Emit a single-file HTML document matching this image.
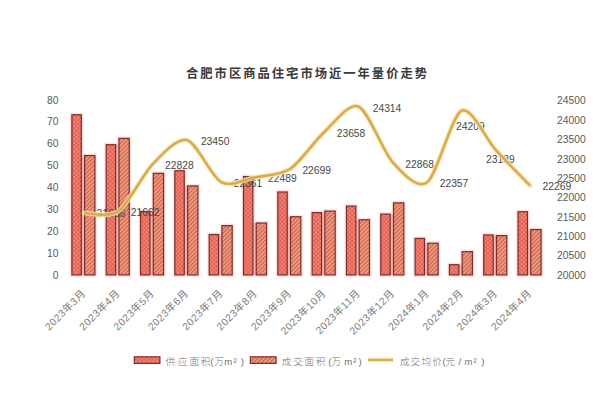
<!DOCTYPE html>
<html><head><meta charset="utf-8"><style>
html,body{margin:0;padding:0;background:#fff;}
svg{display:block;}
.dl{font-family:"Liberation Sans",Arial,sans-serif;font-size:10.3px;fill:#474747;}
.ax{font-family:"Liberation Sans",Arial,sans-serif;font-size:10.3px;fill:#595959;}
.cat{font-family:"Liberation Sans","Noto Sans CJK SC",sans-serif;font-size:10.3px;letter-spacing:0.45px;fill:#7c7c7c;}
.ttl{font-family:"Liberation Sans","Noto Sans CJK SC",sans-serif;font-weight:700;font-size:12.3px;fill:#3a3a3a;letter-spacing:2.0px;}
.lg{font-family:"Liberation Sans","Noto Sans CJK SC",sans-serif;font-weight:300;font-size:9.6px;fill:#707070;}
</style></head><body>
<svg width="600" height="402" viewBox="0 0 600 402">
<defs>
<pattern id="ps" width="3" height="3" patternUnits="userSpaceOnUse" patternTransform="rotate(45)">
<rect width="3" height="3" fill="#ea6e60"/>
<rect width="1.5" height="1.5" fill="#f59582"/>
<rect x="1.5" y="1.5" width="1.5" height="1.5" fill="#da564c"/>
</pattern>
<pattern id="pd" width="2.9" height="2.9" patternUnits="userSpaceOnUse" patternTransform="rotate(45)">
<rect width="2.9" height="2.9" fill="#efaa8e"/>
<rect width="1.5" height="2.9" fill="#d4644c"/>
</pattern>
</defs>
<rect width="600" height="402" fill="#fff"/>
<text x="186" y="78" class="ttl">合肥市区商品住宅市场近一年量价走势</text>
<rect x="71.90" y="114.75" width="9.40" height="160.15" fill="none" stroke="#fbe2e0" stroke-width="4"/>
<rect x="84.64" y="155.55" width="10.30" height="119.35" fill="none" stroke="#fbe2e0" stroke-width="4"/>
<rect x="106.22" y="144.70" width="9.40" height="130.20" fill="none" stroke="#fbe2e0" stroke-width="4"/>
<rect x="118.96" y="138.41" width="10.30" height="136.49" fill="none" stroke="#fbe2e0" stroke-width="4"/>
<rect x="140.54" y="211.54" width="9.40" height="63.36" fill="none" stroke="#fbe2e0" stroke-width="4"/>
<rect x="153.28" y="173.34" width="10.30" height="101.56" fill="none" stroke="#fbe2e0" stroke-width="4"/>
<rect x="174.86" y="170.74" width="9.40" height="104.16" fill="none" stroke="#fbe2e0" stroke-width="4"/>
<rect x="187.60" y="185.93" width="10.30" height="88.97" fill="none" stroke="#fbe2e0" stroke-width="4"/>
<rect x="209.18" y="234.54" width="9.40" height="40.36" fill="none" stroke="#fbe2e0" stroke-width="4"/>
<rect x="221.92" y="225.64" width="10.30" height="49.26" fill="none" stroke="#fbe2e0" stroke-width="4"/>
<rect x="243.50" y="176.60" width="9.40" height="98.30" fill="none" stroke="#fbe2e0" stroke-width="4"/>
<rect x="256.24" y="223.04" width="10.30" height="51.86" fill="none" stroke="#fbe2e0" stroke-width="4"/>
<rect x="277.82" y="192.01" width="9.40" height="82.89" fill="none" stroke="#fbe2e0" stroke-width="4"/>
<rect x="290.56" y="216.74" width="10.30" height="58.16" fill="none" stroke="#fbe2e0" stroke-width="4"/>
<rect x="312.14" y="212.62" width="9.40" height="62.28" fill="none" stroke="#fbe2e0" stroke-width="4"/>
<rect x="324.88" y="211.10" width="10.30" height="63.80" fill="none" stroke="#fbe2e0" stroke-width="4"/>
<rect x="346.46" y="206.11" width="9.40" height="68.79" fill="none" stroke="#fbe2e0" stroke-width="4"/>
<rect x="359.20" y="219.78" width="10.30" height="55.12" fill="none" stroke="#fbe2e0" stroke-width="4"/>
<rect x="380.78" y="214.14" width="9.40" height="60.76" fill="none" stroke="#fbe2e0" stroke-width="4"/>
<rect x="393.52" y="202.86" width="10.30" height="72.04" fill="none" stroke="#fbe2e0" stroke-width="4"/>
<rect x="415.10" y="238.44" width="9.40" height="36.46" fill="none" stroke="#fbe2e0" stroke-width="4"/>
<rect x="427.84" y="243.22" width="10.30" height="31.68" fill="none" stroke="#fbe2e0" stroke-width="4"/>
<rect x="449.42" y="264.70" width="9.40" height="10.20" fill="none" stroke="#fbe2e0" stroke-width="4"/>
<rect x="462.16" y="251.68" width="10.30" height="23.22" fill="none" stroke="#fbe2e0" stroke-width="4"/>
<rect x="483.74" y="234.97" width="9.40" height="39.93" fill="none" stroke="#fbe2e0" stroke-width="4"/>
<rect x="496.48" y="235.62" width="10.30" height="39.28" fill="none" stroke="#fbe2e0" stroke-width="4"/>
<rect x="518.06" y="211.75" width="9.40" height="63.15" fill="none" stroke="#fbe2e0" stroke-width="4"/>
<rect x="530.80" y="229.55" width="10.30" height="45.35" fill="none" stroke="#fbe2e0" stroke-width="4"/>
<rect x="81.30" y="155.55" width="3.34" height="119.35" fill="#f2b4ac"/>
<rect x="115.62" y="144.70" width="3.34" height="130.20" fill="#f2b4ac"/>
<rect x="149.94" y="211.54" width="3.34" height="63.36" fill="#f2b4ac"/>
<rect x="184.26" y="185.93" width="3.34" height="88.97" fill="#f2b4ac"/>
<rect x="218.58" y="234.54" width="3.34" height="40.36" fill="#f2b4ac"/>
<rect x="252.90" y="223.04" width="3.34" height="51.86" fill="#f2b4ac"/>
<rect x="287.22" y="216.74" width="3.34" height="58.16" fill="#f2b4ac"/>
<rect x="321.54" y="212.62" width="3.34" height="62.28" fill="#f2b4ac"/>
<rect x="355.86" y="219.78" width="3.34" height="55.12" fill="#f2b4ac"/>
<rect x="390.18" y="214.14" width="3.34" height="60.76" fill="#f2b4ac"/>
<rect x="424.50" y="243.22" width="3.34" height="31.68" fill="#f2b4ac"/>
<rect x="458.82" y="264.70" width="3.34" height="10.20" fill="#f2b4ac"/>
<rect x="493.14" y="235.62" width="3.34" height="39.28" fill="#f2b4ac"/>
<rect x="527.46" y="229.55" width="3.34" height="45.35" fill="#f2b4ac"/>
<rect x="71.90" y="114.75" width="9.40" height="160.15" fill="url(#ps)" stroke="#7f2b2d" stroke-width="1.2"/>
<rect x="84.64" y="155.55" width="10.30" height="119.35" fill="url(#pd)" stroke="#7f2b2d" stroke-width="1.2"/>
<rect x="106.22" y="144.70" width="9.40" height="130.20" fill="url(#ps)" stroke="#7f2b2d" stroke-width="1.2"/>
<rect x="118.96" y="138.41" width="10.30" height="136.49" fill="url(#pd)" stroke="#7f2b2d" stroke-width="1.2"/>
<rect x="140.54" y="211.54" width="9.40" height="63.36" fill="url(#ps)" stroke="#7f2b2d" stroke-width="1.2"/>
<rect x="153.28" y="173.34" width="10.30" height="101.56" fill="url(#pd)" stroke="#7f2b2d" stroke-width="1.2"/>
<rect x="174.86" y="170.74" width="9.40" height="104.16" fill="url(#ps)" stroke="#7f2b2d" stroke-width="1.2"/>
<rect x="187.60" y="185.93" width="10.30" height="88.97" fill="url(#pd)" stroke="#7f2b2d" stroke-width="1.2"/>
<rect x="209.18" y="234.54" width="9.40" height="40.36" fill="url(#ps)" stroke="#7f2b2d" stroke-width="1.2"/>
<rect x="221.92" y="225.64" width="10.30" height="49.26" fill="url(#pd)" stroke="#7f2b2d" stroke-width="1.2"/>
<rect x="243.50" y="176.60" width="9.40" height="98.30" fill="url(#ps)" stroke="#7f2b2d" stroke-width="1.2"/>
<rect x="256.24" y="223.04" width="10.30" height="51.86" fill="url(#pd)" stroke="#7f2b2d" stroke-width="1.2"/>
<rect x="277.82" y="192.01" width="9.40" height="82.89" fill="url(#ps)" stroke="#7f2b2d" stroke-width="1.2"/>
<rect x="290.56" y="216.74" width="10.30" height="58.16" fill="url(#pd)" stroke="#7f2b2d" stroke-width="1.2"/>
<rect x="312.14" y="212.62" width="9.40" height="62.28" fill="url(#ps)" stroke="#7f2b2d" stroke-width="1.2"/>
<rect x="324.88" y="211.10" width="10.30" height="63.80" fill="url(#pd)" stroke="#7f2b2d" stroke-width="1.2"/>
<rect x="346.46" y="206.11" width="9.40" height="68.79" fill="url(#ps)" stroke="#7f2b2d" stroke-width="1.2"/>
<rect x="359.20" y="219.78" width="10.30" height="55.12" fill="url(#pd)" stroke="#7f2b2d" stroke-width="1.2"/>
<rect x="380.78" y="214.14" width="9.40" height="60.76" fill="url(#ps)" stroke="#7f2b2d" stroke-width="1.2"/>
<rect x="393.52" y="202.86" width="10.30" height="72.04" fill="url(#pd)" stroke="#7f2b2d" stroke-width="1.2"/>
<rect x="415.10" y="238.44" width="9.40" height="36.46" fill="url(#ps)" stroke="#7f2b2d" stroke-width="1.2"/>
<rect x="427.84" y="243.22" width="10.30" height="31.68" fill="url(#pd)" stroke="#7f2b2d" stroke-width="1.2"/>
<rect x="449.42" y="264.70" width="9.40" height="10.20" fill="url(#ps)" stroke="#7f2b2d" stroke-width="1.2"/>
<rect x="462.16" y="251.68" width="10.30" height="23.22" fill="url(#pd)" stroke="#7f2b2d" stroke-width="1.2"/>
<rect x="483.74" y="234.97" width="9.40" height="39.93" fill="url(#ps)" stroke="#7f2b2d" stroke-width="1.2"/>
<rect x="496.48" y="235.62" width="10.30" height="39.28" fill="url(#pd)" stroke="#7f2b2d" stroke-width="1.2"/>
<rect x="518.06" y="211.75" width="9.40" height="63.15" fill="url(#ps)" stroke="#7f2b2d" stroke-width="1.2"/>
<rect x="530.80" y="229.55" width="10.30" height="45.35" fill="url(#pd)" stroke="#7f2b2d" stroke-width="1.2"/>
<text x="96.5" y="216.6" class="dl">21656</text>
<text x="130.8" y="216.4" class="dl">21662</text>
<text x="165.1" y="169.1" class="dl">22828</text>
<text x="200.9" y="145.1" class="dl">23450</text>
<text x="233.7" y="187.2" class="dl">22361</text>
<text x="268.1" y="182.2" class="dl">22489</text>
<text x="302.4" y="174.1" class="dl">22699</text>
<text x="336.7" y="137.0" class="dl">23658</text>
<text x="372.7" y="111.6" class="dl">24314</text>
<text x="405.3" y="167.6" class="dl">22868</text>
<text x="439.7" y="187.3" class="dl">22357</text>
<text x="456.0" y="129.6" class="dl">24209</text>
<text x="486.0" y="162.6" class="dl">23189</text>
<text x="542.6" y="189.7" class="dl">22269</text>
<path d="M84.06,212.97 C88.96,212.72 108.57,218.20 118.38,211.23 C128.19,204.25 142.89,174.28 152.70,164.11 C162.51,153.95 177.21,137.47 187.02,140.05 C196.83,142.63 211.53,176.87 221.34,182.18 C231.15,187.49 245.85,179.09 255.66,177.23 C265.47,175.36 280.17,175.56 289.98,169.10 C299.79,162.64 314.49,140.93 324.30,132.01 C334.11,123.08 348.81,102.27 358.62,106.63 C368.43,111.00 383.13,151.75 392.94,162.57 C402.75,173.38 417.45,189.74 427.26,182.33 C437.07,174.92 451.77,115.29 461.58,110.70 C471.39,106.10 486.09,139.43 495.90,150.15 C505.71,160.87 525.32,180.65 530.22,185.74" fill="none" stroke="#f7e3a8" stroke-width="4.8" stroke-linejoin="round" stroke-linecap="round" opacity="0.85"/>
<path d="M84.06,212.97 C88.96,212.72 108.57,218.20 118.38,211.23 C128.19,204.25 142.89,174.28 152.70,164.11 C162.51,153.95 177.21,137.47 187.02,140.05 C196.83,142.63 211.53,176.87 221.34,182.18 C231.15,187.49 245.85,179.09 255.66,177.23 C265.47,175.36 280.17,175.56 289.98,169.10 C299.79,162.64 314.49,140.93 324.30,132.01 C334.11,123.08 348.81,102.27 358.62,106.63 C368.43,111.00 383.13,151.75 392.94,162.57 C402.75,173.38 417.45,189.74 427.26,182.33 C437.07,174.92 451.77,115.29 461.58,110.70 C471.39,106.10 486.09,139.43 495.90,150.15 C505.71,160.87 525.32,180.65 530.22,185.74" fill="none" stroke="#d8a94e" stroke-width="2.4" stroke-linejoin="round" stroke-linecap="butt"/>
<text x="58.5" y="278.5" class="ax" text-anchor="end">0</text>
<text x="58.5" y="256.6" class="ax" text-anchor="end">10</text>
<text x="58.5" y="234.8" class="ax" text-anchor="end">20</text>
<text x="58.5" y="212.9" class="ax" text-anchor="end">30</text>
<text x="58.5" y="191.0" class="ax" text-anchor="end">40</text>
<text x="58.5" y="169.1" class="ax" text-anchor="end">50</text>
<text x="58.5" y="147.3" class="ax" text-anchor="end">60</text>
<text x="58.5" y="125.4" class="ax" text-anchor="end">70</text>
<text x="58.5" y="103.5" class="ax" text-anchor="end">80</text>
<text x="557" y="278.5" class="ax">20000</text>
<text x="557" y="259.2" class="ax">20500</text>
<text x="557" y="239.8" class="ax">21000</text>
<text x="557" y="220.5" class="ax">21500</text>
<text x="557" y="201.1" class="ax">22000</text>
<text x="557" y="181.8" class="ax">22500</text>
<text x="557" y="162.5" class="ax">23000</text>
<text x="557" y="143.1" class="ax">23500</text>
<text x="557" y="123.8" class="ax">24000</text>
<text x="557" y="104.4" class="ax">24500</text>
<text x="0" y="0" class="cat" text-anchor="end" transform="translate(86.3,293.9) rotate(-45)">2023年3月</text>
<text x="0" y="0" class="cat" text-anchor="end" transform="translate(120.6,293.9) rotate(-45)">2023年4月</text>
<text x="0" y="0" class="cat" text-anchor="end" transform="translate(154.9,293.9) rotate(-45)">2023年5月</text>
<text x="0" y="0" class="cat" text-anchor="end" transform="translate(189.2,293.9) rotate(-45)">2023年6月</text>
<text x="0" y="0" class="cat" text-anchor="end" transform="translate(223.5,293.9) rotate(-45)">2023年7月</text>
<text x="0" y="0" class="cat" text-anchor="end" transform="translate(257.9,293.9) rotate(-45)">2023年8月</text>
<text x="0" y="0" class="cat" text-anchor="end" transform="translate(292.2,293.9) rotate(-45)">2023年9月</text>
<text x="0" y="0" class="cat" text-anchor="end" transform="translate(326.5,293.9) rotate(-45)">2023年10月</text>
<text x="0" y="0" class="cat" text-anchor="end" transform="translate(360.8,293.9) rotate(-45)">2023年11月</text>
<text x="0" y="0" class="cat" text-anchor="end" transform="translate(395.1,293.9) rotate(-45)">2023年12月</text>
<text x="0" y="0" class="cat" text-anchor="end" transform="translate(429.5,293.9) rotate(-45)">2024年1月</text>
<text x="0" y="0" class="cat" text-anchor="end" transform="translate(463.8,293.9) rotate(-45)">2024年2月</text>
<text x="0" y="0" class="cat" text-anchor="end" transform="translate(498.1,293.9) rotate(-45)">2024年3月</text>
<text x="0" y="0" class="cat" text-anchor="end" transform="translate(532.4,293.9) rotate(-45)">2024年4月</text>
<rect x="134.3" y="356.8" width="25.6" height="6.6" fill="url(#ps)" stroke="#7f2b2d" stroke-width="1.2"/>
<text x="165.5 177.7 189.6 200.7 210.3 214.2 224.3 233.6 240.8" y="364.6" class="lg">供应面积(万m²)</text>
<rect x="250.3" y="356.8" width="25.8" height="6.6" fill="url(#pd)" stroke="#7f2b2d" stroke-width="1.2"/>
<text x="281.7 293.2 304.5 315.7 328.3 331.5 344.3 353.2 358.4" y="364.6" class="lg">成交面积(万m²)</text>
<line x1="368" y1="359.9" x2="393" y2="359.9" stroke="#f8ebc0" stroke-width="5"/><line x1="368" y1="359.9" x2="393" y2="359.9" stroke="#d6ae5c" stroke-width="2.2"/>
<text x="399.9 410.4 421.4 432.3 442.4 445.5 458.6 464.6 473.6 481.3" y="364.6" class="lg">成交均价(元/m²)</text>
</svg>
</body></html>
